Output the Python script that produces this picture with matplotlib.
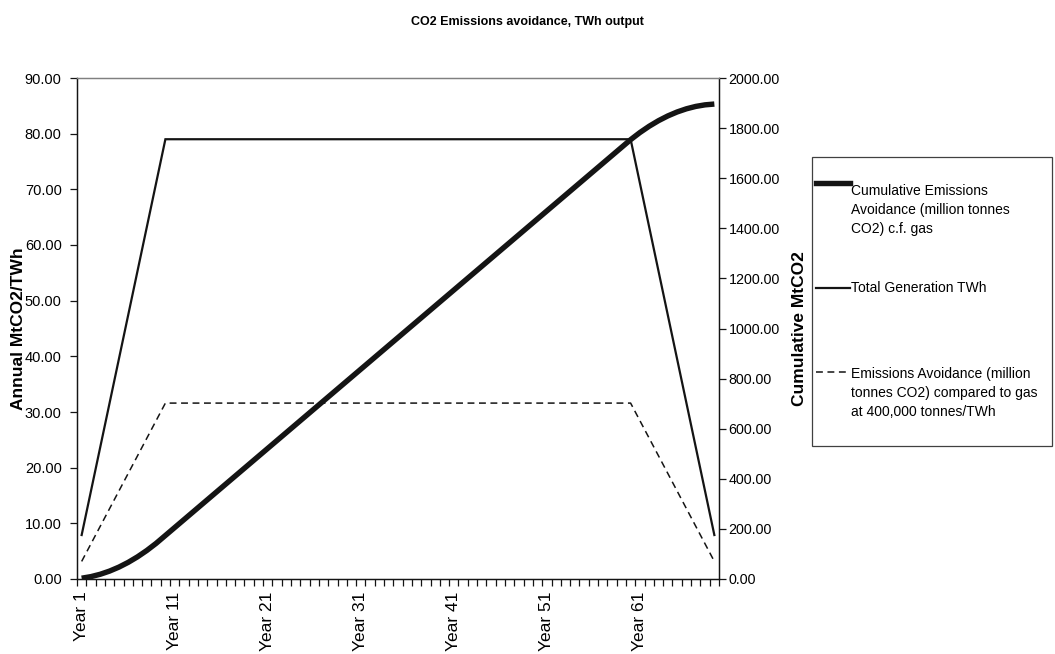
import matplotlib
matplotlib.use("Agg")
import matplotlib.pyplot as plt
from matplotlib.lines import Line2D
from matplotlib.patches import Rectangle
from matplotlib.ticker import FixedLocator, FormatStrFormatter

plt.rcParams['font.family'] = ['Liberation Sans', 'DejaVu Sans']

# ---- data -------------------------------------------------------------
years = [f"Year {i}" for i in range(1, 70)]

total_generation_twh = [
    7.9, 15.8, 23.7, 31.6, 39.5, 47.4, 55.3, 63.2, 71.1, 79.0,
    79.0, 79.0, 79.0, 79.0, 79.0, 79.0, 79.0, 79.0, 79.0, 79.0,
    79.0, 79.0, 79.0, 79.0, 79.0, 79.0, 79.0, 79.0, 79.0, 79.0,
    79.0, 79.0, 79.0, 79.0, 79.0, 79.0, 79.0, 79.0, 79.0, 79.0,
    79.0, 79.0, 79.0, 79.0, 79.0, 79.0, 79.0, 79.0, 79.0, 79.0,
    79.0, 79.0, 79.0, 79.0, 79.0, 79.0, 79.0, 79.0, 79.0, 79.0,
    71.1, 63.2, 55.3, 47.4, 39.5, 31.6, 23.7, 15.8, 7.9,
]

annual_avoidance_mt = [
    3.16, 6.32, 9.48, 12.64, 15.80, 18.96, 22.12, 25.28, 28.44, 31.60,
    31.60, 31.60, 31.60, 31.60, 31.60, 31.60, 31.60, 31.60, 31.60, 31.60,
    31.60, 31.60, 31.60, 31.60, 31.60, 31.60, 31.60, 31.60, 31.60, 31.60,
    31.60, 31.60, 31.60, 31.60, 31.60, 31.60, 31.60, 31.60, 31.60, 31.60,
    31.60, 31.60, 31.60, 31.60, 31.60, 31.60, 31.60, 31.60, 31.60, 31.60,
    31.60, 31.60, 31.60, 31.60, 31.60, 31.60, 31.60, 31.60, 31.60, 31.60,
    28.44, 25.28, 22.12, 18.96, 15.80, 12.64, 9.48, 6.32, 3.16,
]

cumulative_avoidance_mt = [
    3.16, 9.48, 18.96, 31.60, 47.40, 66.36, 88.48, 113.76, 142.20, 173.80,
    205.4, 237.0, 268.6, 300.2, 331.8, 363.4, 395.0, 426.6, 458.2, 489.8,
    521.4, 553.0, 584.6, 616.2, 647.8, 679.4, 711.0, 742.6, 774.2, 805.8,
    837.4, 869.0, 900.6, 932.2, 963.8, 995.4, 1027.0, 1058.6, 1090.2, 1121.8,
    1153.4, 1185.0, 1216.6, 1248.2, 1279.8, 1311.4, 1343.0, 1374.6, 1406.2, 1437.8,
    1469.4, 1501.0, 1532.6, 1564.2, 1595.8, 1627.4, 1659.0, 1690.6, 1722.2, 1753.8,
    1782.24, 1807.52, 1829.64, 1848.60, 1864.40, 1877.04, 1886.52, 1892.84, 1896.00,
]

left_ticks = [0, 10, 20, 30, 40, 50, 60, 70, 80, 90]
right_ticks = [0, 200, 400, 600, 800, 1000, 1200, 1400, 1600, 1800, 2000]
label_every = 10

series_names = [
    "Cumulative Emissions\nAvoidance (million tonnes\nCO2) c.f. gas",
    "Total Generation TWh",
    "Emissions Avoidance (million\ntonnes CO2) compared to gas\nat 400,000 tonnes/TWh",
]

title = "CO2 Emissions avoidance, TWh output"
left_label = "Annual MtCO2/TWh"
right_label = "Cumulative MtCO2"

# ---- figure -------------------------------------------------------------
W, H = 1055, 654
fig = plt.figure(figsize=(W / 100, H / 100), dpi=100)


def fx(x):
    return x / W


def fy(y):
    return 1 - y / H


ax_l, ax_r, ax_t, ax_b = 77, 719, 78, 579
ax = fig.add_axes([fx(ax_l), fy(ax_b), fx(ax_r - ax_l), (ax_b - ax_t) / H])
ax2 = ax.twinx()

x = list(range(len(years)))
ink = "#141414"

ax.plot(x, total_generation_twh, color=ink, lw=1.6, solid_joinstyle="miter")
ax.plot(x, annual_avoidance_mt, color=ink, lw=1.1, dashes=(4.5, 3))
ax2.plot(x, cumulative_avoidance_mt, color=ink, lw=3.9, solid_capstyle="butt")

ax.set_xlim(-0.5, len(years) - 0.5)
ax.set_ylim(0, 90)
ax2.set_ylim(0, 2000)

# category axis: a tick mark between every category, a label every tenth
ax.xaxis.set_major_locator(FixedLocator(x[::label_every]))
ax.set_xticklabels(years[::label_every], rotation=90, va="top", ha="center")
ax.xaxis.set_minor_locator(FixedLocator([i - 0.5 for i in range(len(years) + 1)]))
ax.tick_params(axis="x", which="major", length=0, pad=9, labelsize=12.5)
ax.tick_params(axis="x", which="minor", length=5, width=0.9, color=ink)

ax.yaxis.set_major_locator(FixedLocator(left_ticks))
ax.yaxis.set_major_formatter(FormatStrFormatter("%.2f"))
ax.tick_params(axis="y", length=5, width=0.9, color=ink, labelsize=10.5, pad=6)

ax2.yaxis.set_major_locator(FixedLocator(right_ticks))
ax2.yaxis.set_major_formatter(FormatStrFormatter("%.2f"))
ax2.tick_params(axis="y", length=5, width=0.9, color=ink, labelsize=10.3, pad=2)

for a in (ax, ax2):
    a.spines["top"].set_color("#808080")
    a.spines["top"].set_linewidth(0.9)
    for s in ("left", "right", "bottom"):
        a.spines[s].set_color(ink)
        a.spines[s].set_linewidth(0.9)

span = ax_r - ax_l
ax.set_ylabel(left_label, fontsize=12.5, fontweight="bold", va="center")
ax.yaxis.set_label_coords((18 - ax_l) / span, 0.5)
ax2.set_ylabel(right_label, fontsize=12.5, fontweight="bold", va="center")
ax2.yaxis.set_label_coords((800 - ax_l) / span, 0.5)

fig.text(0.5, fy(22), title, ha="center", va="center",
         fontsize=9, fontweight="bold")

# ---- legend box -----------------------------------------------------------
fig.add_artist(Rectangle((fx(812), fy(446)), fx(1052 - 812), (446 - 157) / H,
                         transform=fig.transFigure, fill=False,
                         edgecolor="#404040", lw=0.9))

entries = [
    (183, dict(lw=3.9), 184, "top"),
    (288, dict(lw=1.6), 288, "center"),
    (372, dict(lw=1.1, dashes=(4.5, 3)), 367, "top"),
]
for (ly, style, ty, va), name in zip(entries, series_names):
    fig.add_artist(Line2D([fx(816), fx(850)], [fy(ly), fy(ly)],
                          transform=fig.transFigure, color=ink, **style))
    fig.text(fx(851), fy(ty), name, ha="left", va=va, fontsize=10,
             linespacing=1.45)

fig.savefig("out.png", dpi=100)
